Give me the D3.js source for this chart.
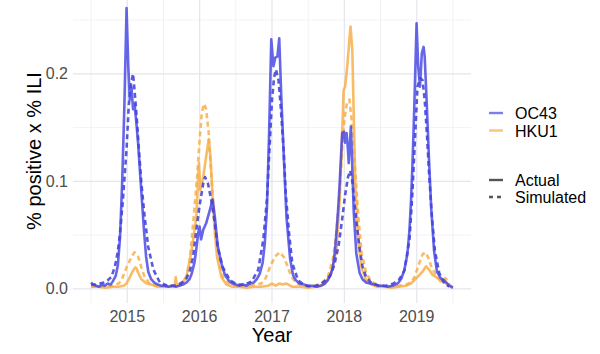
<!DOCTYPE html>
<html>
<head>
<script src="https://cdn.jsdelivr.net/npm/d3@7"></script>
<style>
  body { margin: 0; background: #fff; font-family: "Liberation Sans", Arial, sans-serif; }
</style>
</head>
<body>
<div id="chart"></div>
<script>
// weekly-ish readings: [year, value]
var oc43Actual = [
  [2014.50,0.006],[2014.53,0.004],[2014.57,0.003],[2014.61,0.002],[2014.65,0.004],[2014.69,0.003],[2014.73,0.005],[2014.77,0.004],
  [2014.80,0.007],[2014.84,0.012],[2014.87,0.022],[2014.90,0.048],[2014.93,0.10],[2014.96,0.17],[2014.99,0.261],[2015.015,0.205],
  [2015.035,0.176],[2015.058,0.188],[2015.08,0.167],[2015.10,0.172],[2015.125,0.155],[2015.15,0.135],[2015.175,0.11],[2015.20,0.085],
  [2015.23,0.055],[2015.26,0.03],[2015.29,0.016],[2015.33,0.009],[2015.37,0.006],[2015.42,0.004],[2015.47,0.003],[2015.52,0.003],
  [2015.57,0.002],[2015.62,0.003],[2015.67,0.002],[2015.72,0.003],[2015.77,0.004],[2015.82,0.006],[2015.86,0.009],[2015.89,0.014],
  [2015.93,0.025],[2015.96,0.04],[2015.98,0.052],[2016.0,0.058],[2016.02,0.046],[2016.05,0.055],[2016.09,0.061],[2016.14,0.073],
  [2016.18,0.083],[2016.21,0.067],[2016.25,0.04],[2016.30,0.024],[2016.35,0.013],[2016.40,0.008],[2016.45,0.005],[2016.50,0.004],
  [2016.55,0.003],[2016.60,0.004],[2016.65,0.003],[2016.70,0.005],[2016.75,0.006],[2016.79,0.009],[2016.83,0.014],[2016.87,0.024],
  [2016.90,0.042],[2016.93,0.075],[2016.96,0.145],[2016.99,0.232],[2017.02,0.207],[2017.045,0.215],[2017.075,0.216],[2017.10,0.233],
  [2017.13,0.176],[2017.165,0.12],[2017.20,0.067],[2017.25,0.028],[2017.29,0.013],[2017.33,0.008],[2017.38,0.005],[2017.44,0.004],
  [2017.50,0.003],[2017.56,0.003],[2017.62,0.002],[2017.68,0.003],[2017.73,0.005],[2017.77,0.008],[2017.81,0.013],[2017.84,0.02],
  [2017.87,0.035],[2017.89,0.052],[2017.915,0.075],[2017.935,0.098],[2017.955,0.125],[2017.97,0.145],[2017.995,0.146],[2018.01,0.136],
  [2018.03,0.145],[2018.05,0.129],[2018.06,0.117],[2018.09,0.151],[2018.105,0.123],[2018.13,0.071],[2018.165,0.033],[2018.21,0.015],
  [2018.25,0.009],[2018.30,0.006],[2018.36,0.005],[2018.42,0.004],[2018.48,0.003],[2018.54,0.003],[2018.60,0.002],[2018.66,0.003],
  [2018.71,0.004],[2018.75,0.006],[2018.79,0.01],[2018.83,0.018],[2018.87,0.032],[2018.90,0.055],[2018.92,0.08],[2018.94,0.114],
  [2018.96,0.155],[2018.975,0.19],[2018.998,0.247],[2019.02,0.207],[2019.045,0.188],[2019.07,0.219],[2019.095,0.225],[2019.11,0.216],
  [2019.14,0.17],[2019.17,0.12],[2019.20,0.075],[2019.24,0.035],[2019.28,0.016],[2019.33,0.01],[2019.38,0.008],[2019.45,0.003],[2019.50,0.001]
]
var oc43Sim = [
  [2014.50,0.004],[2014.56,0.004],[2014.62,0.005],[2014.68,0.006],[2014.73,0.008],[2014.78,0.011],[2014.83,0.021],[2014.87,0.035],
  [2014.90,0.052],[2014.94,0.083],[2014.99,0.13],[2015.02,0.17],[2015.05,0.19],[2015.08,0.2],[2015.10,0.185],[2015.13,0.16],
  [2015.16,0.13],[2015.195,0.098],[2015.24,0.067],[2015.29,0.039],[2015.36,0.018],[2015.45,0.006],[2015.55,0.003],[2015.65,0.003],
  [2015.74,0.005],[2015.82,0.01],[2015.87,0.018],[2015.91,0.03],[2015.955,0.055],[2016.0,0.078],[2016.05,0.098],[2016.075,0.104],
  [2016.115,0.098],[2016.16,0.083],[2016.21,0.061],[2016.25,0.039],[2016.32,0.02],[2016.42,0.008],[2016.52,0.004],[2016.62,0.004],
  [2016.72,0.007],[2016.81,0.018],[2016.88,0.046],[2016.93,0.083],[2016.965,0.13],[2017.0,0.176],[2017.03,0.197],[2017.055,0.204],
  [2017.09,0.194],[2017.12,0.17],[2017.16,0.13],[2017.19,0.089],[2017.235,0.052],[2017.28,0.024],[2017.36,0.008],[2017.46,0.003],
  [2017.56,0.002],[2017.66,0.004],[2017.74,0.008],[2017.80,0.012],[2017.86,0.022],[2017.92,0.04],[2017.97,0.065],[2018.01,0.087],
  [2018.05,0.104],[2018.08,0.11],[2018.11,0.1],[2018.14,0.08],[2018.17,0.06],[2018.21,0.038],[2018.25,0.021],[2018.30,0.011],
  [2018.38,0.005],[2018.48,0.003],[2018.58,0.003],[2018.68,0.005],[2018.76,0.009],[2018.83,0.017],[2018.90,0.046],[2018.94,0.089],
  [2018.98,0.145],[2019.01,0.188],[2019.05,0.196],[2019.08,0.194],[2019.11,0.176],[2019.14,0.145],[2019.17,0.108],[2019.21,0.067],
  [2019.25,0.036],[2019.31,0.015],[2019.38,0.005],[2019.45,0.002]
]
var hku1Actual = [
  [2014.50,0.002],[2014.60,0.002],[2014.70,0.001],[2014.80,0.002],[2014.88,0.002],[2014.95,0.003],[2014.99,0.005],[2015.035,0.011],
  [2015.08,0.017],[2015.11,0.02],[2015.13,0.019],[2015.15,0.015],[2015.195,0.009],[2015.265,0.005],[2015.33,0.004],[2015.42,0.002],
  [2015.52,0.002],[2015.60,0.002],[2015.655,0.003],[2015.67,0.011],[2015.685,0.003],[2015.75,0.004],[2015.82,0.012],[2015.89,0.036],
  [2015.955,0.067],[2015.99,0.117],[2016.01,0.092],[2016.05,0.104],[2016.09,0.123],[2016.125,0.139],[2016.15,0.123],[2016.18,0.083],
  [2016.21,0.052],[2016.24,0.03],[2016.30,0.011],[2016.37,0.004],[2016.45,0.002],[2016.55,0.002],[2016.65,0.001],[2016.75,0.002],
  [2016.85,0.002],[2016.95,0.003],[2017.00,0.005],[2017.05,0.003],[2017.10,0.005],[2017.15,0.004],[2017.20,0.005],[2017.28,0.002],
  [2017.40,0.002],[2017.50,0.001],[2017.60,0.002],[2017.72,0.004],[2017.82,0.015],[2017.89,0.036],[2017.935,0.083],[2017.97,0.145],
  [2017.99,0.185],[2018.01,0.188],[2018.04,0.207],[2018.07,0.232],[2018.085,0.244],[2018.11,0.222],[2018.13,0.16],[2018.15,0.098],
  [2018.19,0.046],[2018.235,0.02],[2018.30,0.008],[2018.37,0.004],[2018.45,0.002],[2018.55,0.002],[2018.65,0.001],[2018.75,0.002],
  [2018.85,0.003],[2018.92,0.005],[2019.01,0.011],[2019.08,0.016],[2019.13,0.021],[2019.17,0.018],[2019.22,0.013],[2019.29,0.01],
  [2019.36,0.007],[2019.43,0.004],[2019.50,0.002]
]
var hku1Sim = [
  [2014.50,0.002],[2014.65,0.002],[2014.80,0.003],[2014.88,0.005],[2014.92,0.008],[2014.99,0.02],[2015.06,0.03],[2015.10,0.034],
  [2015.15,0.03],[2015.195,0.02],[2015.24,0.011],[2015.31,0.005],[2015.40,0.003],[2015.55,0.002],[2015.70,0.004],[2015.78,0.007],
  [2015.82,0.012],[2015.86,0.025],[2015.89,0.046],[2015.93,0.076],[2015.97,0.108],[2016.0,0.139],[2016.03,0.164],[2016.06,0.172],
  [2016.09,0.167],[2016.125,0.145],[2016.15,0.117],[2016.185,0.083],[2016.22,0.052],[2016.27,0.027],[2016.32,0.011],[2016.42,0.004],
  [2016.55,0.002],[2016.70,0.003],[2016.80,0.004],[2016.85,0.005],[2016.90,0.008],[2016.97,0.02],[2017.04,0.03],[2017.11,0.034],
  [2017.17,0.029],[2017.22,0.02],[2017.27,0.011],[2017.34,0.005],[2017.45,0.003],[2017.60,0.003],[2017.70,0.006],[2017.77,0.011],
  [2017.84,0.027],[2017.89,0.052],[2017.935,0.089],[2017.97,0.13],[2018.0,0.157],[2018.035,0.173],[2018.07,0.176],[2018.10,0.157],
  [2018.13,0.13],[2018.165,0.095],[2018.20,0.061],[2018.24,0.033],[2018.30,0.015],[2018.37,0.007],[2018.48,0.003],[2018.60,0.002],
  [2018.75,0.003],[2018.85,0.004],[2018.92,0.006],[2018.97,0.011],[2019.035,0.024],[2019.08,0.032],[2019.12,0.034],[2019.16,0.029],
  [2019.205,0.02],[2019.265,0.013],[2019.33,0.007],[2019.40,0.01],[2019.45,0.004]
]

var yearTicks = [2015, 2016, 2017, 2018, 2019]
var yearMinor = [2014.5, 2015.5, 2016.5, 2017.5, 2018.5, 2019.5]
var valueTicks = [0, 0.1, 0.2]
var valueMinor = [0.05, 0.15, 0.25]
var virusNames = ["OC43", "HKU1"]
var typeNames = ["Actual", "Simulated"]

var blue = "#4444e4", blueDash = "#3636d6", orange = "#f7ad45"

var svg = d3.select("#chart").append("svg")
    .attr("width", 600).attr("height", 354)
    .style("background", "#fff")

var panel = {left: 73, right: 471, top: -7, bottom: 303}

var x = d3.scaleLinear().domain([2014.25, 2019.75]).range([panel.left, panel.right])
var y = d3.scaleLinear().domain([-0.0131, 0.2751]).range([panel.bottom, panel.top])

var grid = svg.append("g")
grid.selectAll(".vminor").data(yearMinor).enter().append("line")
    .attr("x1", d => x(d)).attr("x2", d => x(d))
    .attr("y1", 0).attr("y2", panel.bottom)
    .attr("stroke", "#ececf1").attr("stroke-width", 0.7)
grid.selectAll(".hminor").data(valueMinor).enter().append("line")
    .attr("x1", panel.left).attr("x2", panel.right)
    .attr("y1", d => y(d)).attr("y2", d => y(d))
    .attr("stroke", "#ececf1").attr("stroke-width", 0.7)
grid.selectAll(".vmajor").data(yearTicks).enter().append("line")
    .attr("x1", d => x(d)).attr("x2", d => x(d))
    .attr("y1", 0).attr("y2", panel.bottom)
    .attr("stroke", "#e5e5ec").attr("stroke-width", 1.2)
grid.selectAll(".hmajor").data(valueTicks).enter().append("line")
    .attr("x1", panel.left).attr("x2", panel.right)
    .attr("y1", d => y(d)).attr("y2", d => y(d))
    .attr("stroke", "#e5e5ec").attr("stroke-width", 1.2)

var line = d3.line().x(d => x(d[0])).y(d => y(d[1]))

var series = [
  {data: hku1Sim, color: orange, dash: "5,3.5"},
  {data: hku1Actual, color: orange, dash: null},
  {data: oc43Sim, color: blueDash, dash: "5,3.5"},
  {data: oc43Actual, color: blue, dash: null}
]
series.forEach(function(s){
  svg.append("path")
    .attr("d", line(s.data))
    .attr("fill", "none")
    .attr("stroke", s.color)
    .attr("stroke-opacity", 0.82)
    .attr("stroke-width", 2.6)
    .attr("stroke-linejoin", "round")
    .attr("stroke-dasharray", s.dash)
})

// axes text
svg.append("g").selectAll("text").data(valueTicks).enter().append("text")
    .attr("x", 68).attr("y", d => y(d) + 5.5)
    .attr("text-anchor", "end")
    .attr("font-size", 16).attr("fill", "#4d4d4d")
    .text(d => d3.format(".1f")(d))
svg.append("g").selectAll("text").data(yearTicks).enter().append("text")
    .attr("x", d => x(d)).attr("y", 321.5)
    .attr("text-anchor", "middle")
    .attr("font-size", 16).attr("fill", "#4d4d4d")
    .text(d => d)

svg.append("text").attr("x", (panel.left + panel.right) / 2).attr("y", 342)
    .attr("text-anchor", "middle").attr("font-size", 20).attr("fill", "#000")
    .text("Year")
svg.append("text").attr("transform", "translate(41,151) rotate(-90)")
    .attr("text-anchor", "middle").attr("font-size", 20).attr("fill", "#000")
    .text("% positive x % ILI")

// legend
var legend = svg.append("g")
var colorKeys = [blue, orange]
legend.selectAll(".vk").data(virusNames).enter().append("line")
    .attr("x1", 489).attr("x2", 503)
    .attr("y1", (d, i) => 113 + i * 17.5).attr("y2", (d, i) => 113 + i * 17.5)
    .attr("stroke", (d, i) => colorKeys[i]).attr("stroke-opacity", 0.7).attr("stroke-width", 2.4)
legend.selectAll(".vt").data(virusNames).enter().append("text")
    .attr("x", 515).attr("y", (d, i) => 119 + i * 17.5)
    .attr("font-size", 16).attr("fill", "#000")
    .text(d => d)
legend.selectAll(".tk").data(typeNames).enter().append("line")
    .attr("x1", 489).attr("x2", 503)
    .attr("y1", (d, i) => 180 + i * 17).attr("y2", (d, i) => 180 + i * 17)
    .attr("stroke", "#555").attr("stroke-width", 2.4)
    .attr("stroke-dasharray", (d, i) => i == 1 ? "4,4" : null)
legend.selectAll(".tt").data(typeNames).enter().append("text")
    .attr("x", 515).attr("y", (d, i) => 186 + i * 17)
    .attr("font-size", 16).attr("fill", "#000")
    .text(d => d)
</script>
</body>
</html>
